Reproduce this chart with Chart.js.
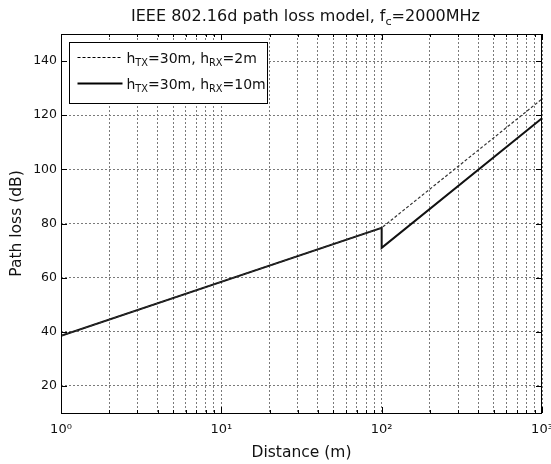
<!DOCTYPE html>
<html>
<head>
<meta charset="utf-8">
<script src="https://cdn.jsdelivr.net/npm/chart.js@4.4.1/dist/chart.umd.min.js"></script>
<style>
html, body { margin: 0; padding: 0; background: #fff; }
canvas { display: block; }
</style>
</head>
<body>
<canvas id="grafico" width="551" height="464"></canvas>
<script>
// --- DATOS ---
const distancia2m = [1, 100, 1000];
const perdida2m = [38.5, 78.4, 126.0];
const distancia10m = [1, 100, 100, 1000];
const perdida10m = [38.5, 78.4, 71.0, 118.9];

const xTicksValores = [1, 2, 3, 4, 5, 6, 7, 8, 9, 10, 20, 30, 40, 50, 60, 70, 80, 90,
    100, 200, 300, 400, 500, 600, 700, 800, 900, 1000];
const xTicksMayores = [1, 10, 100, 1000];
const xTicksEtiquetas = ['10⁰', '10¹', '10²', '10³'];
const yTicksValores = [20, 40, 60, 80, 100, 120, 140];

// partes de texto: [texto, esSubindice]
const titulo = [['IEEE 802.16d path loss model, f', false], ['c', true], ['=2000MHz', false]];
const leyenda2m = [['h', false], ['TX', true], ['=30m, h', false], ['RX', true], ['=2m', false]];
const leyenda10m = [['h', false], ['TX', true], ['=30m, h', false], ['RX', true], ['=10m', false]];

const FUENTE = '"DejaVu Sans", sans-serif';

// --- TEXTO CON SUBINDICES ---
function anchoTexto(ctx, partes, tam) {
    let w = 0;
    partes.forEach(([t, sub]) => {
        ctx.font = `${sub ? tam * 0.7 : tam}px ${FUENTE}`;
        w += ctx.measureText(t).width;
    });
    return w;
}

function dibujarTexto(ctx, partes, x, y, tam) {
    ctx.textBaseline = 'alphabetic';
    ctx.textAlign = 'left';
    partes.forEach(([t, sub]) => {
        ctx.font = `${sub ? tam * 0.7 : tam}px ${FUENTE}`;
        ctx.fillText(t, x, sub ? y + tam * 0.28 : y);
        x += ctx.measureText(t).width;
    });
}

// --- PLUGIN: caja, marcas hacia dentro, leyenda y titulo ---
const decoracion = {
    id: 'decoracion',
    afterDatasetsDraw(chart) {
        const ctx = chart.ctx;
        const ca = chart.chartArea;
        const sx = chart.scales.x, sy = chart.scales.y;
        ctx.save();
        ctx.strokeStyle = '#000';
        ctx.lineWidth = 1;
        ctx.setLineDash([]);

        // marcas
        ctx.beginPath();
        sx.ticks.forEach(t => {
            const px = Math.round(sx.getPixelForValue(t.value)) + 0.5;
            const largo = xTicksMayores.includes(t.value) ? 6 : 3;
            ctx.moveTo(px, ca.bottom); ctx.lineTo(px, ca.bottom - largo);
            ctx.moveTo(px, ca.top); ctx.lineTo(px, ca.top + largo);
        });
        sy.ticks.forEach(t => {
            const py = Math.round(sy.getPixelForValue(t.value)) + 0.5;
            ctx.moveTo(ca.left, py); ctx.lineTo(ca.left + 6, py);
            ctx.moveTo(ca.right, py); ctx.lineTo(ca.right - 6, py);
        });
        ctx.stroke();

        // caja
        ctx.strokeRect(Math.round(ca.left) + 0.5, Math.round(ca.top) + 0.5,
            Math.round(ca.right - ca.left) - 1, Math.round(ca.bottom - ca.top));

        // leyenda
        const lx = Math.round(ca.left) + 8.5, ly = Math.round(ca.top) + 8.5;
        ctx.fillStyle = '#fff';
        ctx.fillRect(lx, ly, 198, 61);
        ctx.strokeRect(lx, ly, 198, 61);

        const filas = [
            { partes: leyenda2m, dash: [3, 2], ancho: 1.2, y: ly + 15 },
            { partes: leyenda10m, dash: [], ancho: 2, y: ly + 41 }
        ];
        filas.forEach(f => {
            ctx.beginPath();
            ctx.setLineDash(f.dash);
            ctx.lineWidth = f.ancho;
            ctx.moveTo(lx + 8, f.y); ctx.lineTo(lx + 53, f.y);
            ctx.stroke();
            ctx.setLineDash([]);
            ctx.fillStyle = '#111';
            dibujarTexto(ctx, f.partes, lx + 57, f.y + 5, 14);
        });

        // titulo
        ctx.fillStyle = '#111';
        const w = anchoTexto(ctx, titulo, 16);
        dibujarTexto(ctx, titulo, (ca.left + ca.right) / 2 - w / 2 + 4, 21, 16);
        ctx.restore();
    }
};

// --- GRAFICO ---
const ctxGrafico = document.getElementById('grafico').getContext('2d');

new Chart(ctxGrafico, {
    type: 'line',
    data: {
        datasets: [
            {
                label: 'hRX=2m',
                data: distancia2m.map((d, i) => ({ x: d, y: perdida2m[i] })),
                borderColor: '#333',
                borderWidth: 1.2,
                borderDash: [3, 2],
                pointRadius: 0,
                tension: 0
            },
            {
                label: 'hRX=10m',
                data: distancia10m.map((d, i) => ({ x: d, y: perdida10m[i] })),
                borderColor: '#111',
                borderWidth: 2,
                pointRadius: 0,
                tension: 0
            }
        ]
    },
    options: {
        responsive: false,
        animation: false,
        layout: { padding: { top: 34, right: 9, left: 0, bottom: 0 } },
        plugins: {
            legend: { display: false },
            tooltip: { enabled: false },
            title: { display: false }
        },
        scales: {
            x: {
                type: 'logarithmic',
                min: 1,
                max: 1000,
                afterBuildTicks: (scale) => {
                    scale.ticks = xTicksValores.map(v => ({ value: v }));
                },
                afterFit: (scale) => {
                    scale.height = 51;
                    scale.paddingLeft = 0;
                    scale.paddingRight = 0;
                },
                ticks: {
                    autoSkip: false,
                    maxRotation: 0,
                    padding: 9,
                    color: '#111',
                    font: { family: FUENTE, size: 13 },
                    callback: (v) => {
                        const i = xTicksMayores.indexOf(v);
                        return i >= 0 ? xTicksEtiquetas[i] : '';
                    }
                },
                grid: { color: '#7a7a7a', lineWidth: 1, drawTicks: false },
                border: { display: false, dash: [2, 2] },
                title: {
                    display: true,
                    text: 'Distance (m)',
                    color: '#111',
                    font: { family: FUENTE, size: 15.5 },
                    padding: { top: 0, bottom: 2 }
                }
            },
            y: {
                type: 'linear',
                min: 10,
                max: 150,
                afterBuildTicks: (scale) => {
                    scale.ticks = yTicksValores.map(v => ({ value: v }));
                },
                afterFit: (scale) => {
                    scale.width = 61;
                    scale.paddingTop = 0;
                    scale.paddingBottom = 0;
                },
                ticks: {
                    padding: 4,
                    color: '#111',
                    font: { family: FUENTE, size: 12.5 }
                },
                grid: { color: '#7a7a7a', lineWidth: 1, drawTicks: false },
                border: { display: false, dash: [2, 2] },
                title: {
                    display: true,
                    text: 'Path loss (dB)',
                    color: '#111',
                    font: { family: FUENTE, size: 15.5 },
                    padding: { top: 8, bottom: 0 }
                }
            }
        }
    },
    plugins: [decoracion]
});
</script>
</body>
</html>
